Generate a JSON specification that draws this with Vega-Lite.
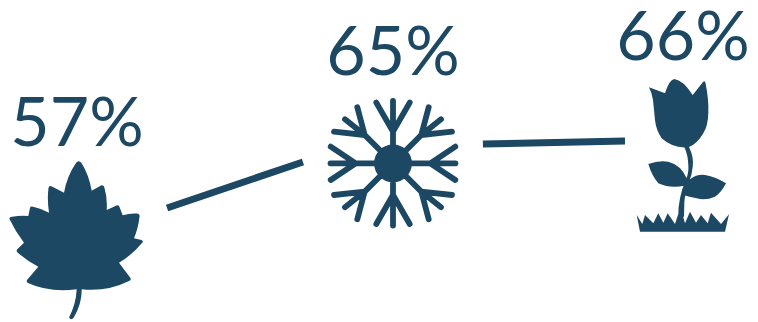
{
  "$schema": "https://vega.github.io/schema/vega-lite/v6.json",
  "width": 758,
  "height": 322,
  "padding": 0,
  "autosize": {"type": "none"},
  "background": "white",
  "config": {"view": {"stroke": null}},
  "datasets": {
    "seasons": [
      {"season": "Autumn", "share": 57, "label": "57%"},
      {"season": "Winter", "share": 65, "label": "65%"},
      {"season": "Spring", "share": 66, "label": "66%"}
    ],
    "connectors": [
      {"segment": "Autumn to Winter", "share": 59.28, "level": 57},
      {"segment": "Autumn to Winter", "share": 62.72, "level": 63.18},
      {"segment": "Winter to Spring", "share": 65.31, "level": 65.6},
      {"segment": "Winter to Spring", "share": 65.8, "level": 66}
    ]
  },
  "resolve": {"scale": {"y": "independent"}},
  "layer": [
    {
      "data": {"name": "connectors"},
      "mark": {"type": "line", "stroke": "#1c4864", "strokeWidth": 7, "strokeCap": "butt"},
      "encoding": {
        "x": {"field": "share", "type": "quantitative", "axis": null, "scale": {"domain": [57, 65, 66], "range": [77, 393, 683], "nice": false, "zero": false}},
        "y": {"field": "level", "type": "quantitative", "axis": null, "scale": {"domain": [57, 66], "range": [208, 141], "nice": false, "zero": false}},
        "detail": {"field": "segment"},
        "order": {"field": "share"}
      }
    },
    {
      "data": {"name": "seasons"},
      "mark": {"type": "text", "font": "Lato", "fontSize": 68, "fontWeight": 400, "fill": "#1c4864", "align": "center", "baseline": "alphabetic"},
      "encoding": {
        "x": {"field": "share", "type": "quantitative", "axis": null},
        "y": {"field": "share", "type": "quantitative", "axis": null, "scale": {"domain": [57, 65, 66], "range": [146, 75, 60], "nice": false, "zero": false}},
        "text": {"field": "label", "type": "nominal"}
      }
    },
    {
      "data": {"name": "seasons"},
      "transform": [{"filter": "datum.season === 'Autumn'"}],
      "mark": {
        "type": "point", "filled": true, "size": 4, "opacity": 1, "fill": "#1c4864",
        "shape": "M-1 17 Q1.7 13.5 4.5 17 Q12 29 14.7 44.7 L24 39.5 Q27 38.5 27.5 42 Q30.5 52 29.7 64 L39.5 59.5 Q42 58.5 42.5 61 L45.7 69.3 Q53 67 60 67.5 Q63 67.5 62.5 71 Q61 83 57 92.3 L64.5 94 Q67 95 65 97 Q55 109 42 116.7 L53.5 132 Q54.5 134.5 52 135 Q30 146 4.7 143.3 Q5 158 -3.5 172 Q-6 174.5 -8 171.5 Q-1 158 -0.3 143.3 Q-27 147 -49 137 Q-51 136 -50 134 L-38.7 120.7 Q-50 115 -60 106 Q-61 104 -59 102.5 L-53 96.7 Q-62 85 -67.5 73 Q-68 71 -65 70.7 Q-57 69.5 -48.7 70 L-47 62 Q-46.5 60 -44 60.8 Q-36 62.5 -28 66.7 Q-30 53 -28.5 42 Q-28 39 -25 40.5 L-13 46.7 Q-10 30 -1 17 Z"
      },
      "encoding": {
        "x": {"field": "share", "type": "quantitative", "axis": null},
        "y": {"field": "share", "type": "quantitative", "axis": null, "scale": {"domain": [57, 65, 66], "range": [146, 75, 60], "nice": false, "zero": false}}
      }
    },
    {
      "data": {"name": "seasons"},
      "transform": [{"filter": "datum.season === 'Winter'"}],
      "mark": {
        "type": "point", "filled": true, "size": 4, "opacity": 1, "fill": "#1c4864", "stroke": "#1c4864", "strokeWidth": 5.8, "strokeCap": "round", "strokeJoin": "round",
        "shape": "M-16 88.3 A16 16 0 1 0 16 88.3 A16 16 0 1 0 -16 88.3 Z M0 26 L0 150.6 M-62.5 88.3 L62.5 88.3 M-16.7 27.6 L0 56.6 M16.7 27.6 L0 56.6 M-16.7 149 L0 120 M16.7 149 L0 120 M62.3 71.6 L37.3 88.3 M62.3 105 L37.3 88.3 M-62.3 71.6 L-37.3 88.3 M-62.3 105 L-37.3 88.3 M28.3 60 L-28.3 116.6 M-28.3 60 L28.3 116.6 M35.7 32.3 L28.3 60 M48 44.3 L28.3 60 M59 56.6 L28.3 60 M-35.7 32.3 L-28.3 60 M-48 44.3 L-28.3 60 M-59 56.6 L-28.3 60 M35.7 144.3 L28.3 116.6 M48 132.3 L28.3 116.6 M59 120 L28.3 116.6 M-35.7 144.3 L-28.3 116.6 M-48 132.3 L-28.3 116.6 M-59 120 L-28.3 116.6"
      },
      "encoding": {
        "x": {"field": "share", "type": "quantitative", "axis": null},
        "y": {"field": "share", "type": "quantitative", "axis": null, "scale": {"domain": [57, 65, 66], "range": [146, 75, 60], "nice": false, "zero": false}}
      }
    },
    {
      "data": {"name": "seasons"},
      "transform": [{"filter": "datum.season === 'Spring'"}],
      "mark": {
        "type": "point", "filled": true, "size": 4, "opacity": 1, "fill": "#1c4864",
        "shape": "M-34 27.3 L-18 33.3 Q-14 20 -8.7 19 Q0 20 9.7 35 L20 22 Q22 20 22.5 23 Q26 40 25.3 53.3 Q25 66 20.3 73.3 Q14 84 6 87 Q11 97 9.7 106.7 Q9 115 6 121.7 Q1.5 135 1.3 143.3 L1 156.7 L-4.7 156.7 Q-5 148 -3 138.3 Q-1 128 3 120 Q6 112 5.3 105 Q5 95 1.5 87.5 Q-12 87 -21.3 78.3 Q-27 70 -28 60 L-30 40 Q-31 33 -34 27.3 Z M-34.7 104 Q-24 100 -14.7 101.7 Q-2 105 3.7 118.3 L2 125.5 Q-12 129 -24.7 123.3 Q-31 116 -34.7 104 Z M7 119.3 Q14 114 22 115 Q33 117 43 123.3 Q38 133 32 136.7 Q22 141 13.7 138.3 Q6 137 0.3 135 Q1 127 7 119.3 Z M-46.3 155 L-40.7 164 L-38 155 L-29.7 163.3 L-24.7 153.3 L-19.7 162.7 L-15.3 153.3 L-8 164 L-4.7 154 L-0.7 154 L2 163.3 L7 151.7 L13 162.7 L18 155 L24.7 163.3 L28 152.7 L38 164 L46 154.3 L42 171.7 L-43 171.7 Z"
      },
      "encoding": {
        "x": {"field": "share", "type": "quantitative", "axis": null},
        "y": {"field": "share", "type": "quantitative", "axis": null, "scale": {"domain": [57, 65, 66], "range": [146, 75, 60], "nice": false, "zero": false}}
      }
    }
  ]
}
